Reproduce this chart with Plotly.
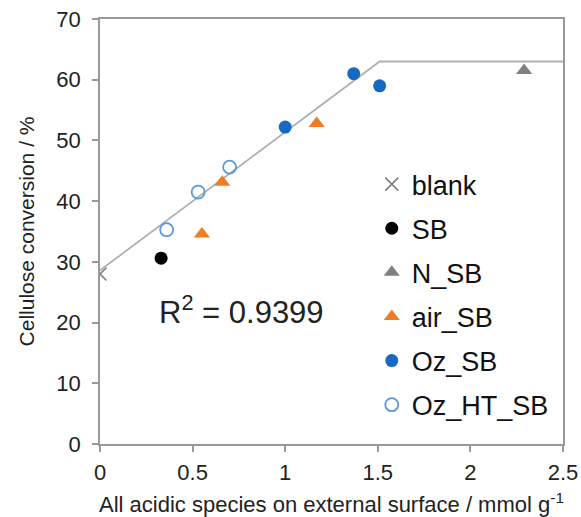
import plotly.graph_objects as go

# Data
blank_x = [0.0]
blank_y = [28.0]
sb_x = [0.33]
sb_y = [30.6]
nsb_x = [2.29]
nsb_y = [61.5]
air_x = [0.55, 0.66, 1.17]
air_y = [34.6, 43.1, 52.8]
oz_x = [1.0, 1.37, 1.51]
oz_y = [52.2, 61.0, 59.0]
ozht_x = [0.36, 0.53, 0.70]
ozht_y = [35.3, 41.5, 45.6]
fit_x = [0.0, 1.51, 2.5]
fit_y = [28.6, 63.0, 63.0]
r2_text = "R<sup>2</sup> = 0.9399"

FONT = "Liberation Sans, Arial"
fig = go.Figure()
fig.add_trace(go.Scatter(x=fit_x, y=fit_y, mode="lines",
                         line=dict(color="#b0b0b0", width=1.8),
                         showlegend=False, hoverinfo="skip"))
fig.add_trace(go.Scatter(x=blank_x, y=blank_y, mode="markers", name="blank",
                         legendgroup="a",
                         marker=dict(symbol="x-thin", size=13, color="#808080",
                                     line=dict(color="#808080", width=1.6))))
fig.add_trace(go.Scatter(x=sb_x, y=sb_y, mode="markers", name="SB",
                         legendgroup="b",
                         marker=dict(symbol="circle", size=13, color="#000000")))
fig.add_trace(go.Scatter(x=nsb_x, y=nsb_y, mode="markers", name="N_SB",
                         legendgroup="c",
                         marker=dict(symbol="triangle-up", size=14, color="#808080")))
fig.add_trace(go.Scatter(x=air_x, y=air_y, mode="markers", name="air_SB",
                         legendgroup="d",
                         marker=dict(symbol="triangle-up", size=14, color="#F07B22")))
fig.add_trace(go.Scatter(x=oz_x, y=oz_y, mode="markers", name="Oz_SB",
                         legendgroup="e",
                         marker=dict(symbol="circle", size=13, color="#1769C2")))
fig.add_trace(go.Scatter(x=ozht_x, y=ozht_y, mode="markers", name="Oz_HT_SB",
                         legendgroup="f",
                         marker=dict(symbol="circle-open", size=13, color="#5B9BD5",
                                     line=dict(width=1.8, color="#5B9BD5"))))

fig.add_annotation(x=0.31, y=22.0, xref="x", yref="y", text=r2_text,
                   showarrow=False, xanchor="left", yanchor="middle",
                   font=dict(size=31, color="#222222", family=FONT))

axis_common = dict(showline=True, linecolor="#999999", linewidth=1.5, mirror=True,
                   ticks="outside", tickcolor="#999999", ticklen=6, tickwidth=1.5,
                   showgrid=False, zeroline=False, automargin=False,
                   ticklabeloverflow="allow",
                   tickfont=dict(size=22, color="#222222", family=FONT))

fig.update_xaxes(range=[0, 2.5], tickvals=[0, 0.5, 1, 1.5, 2, 2.5],
                 ticktext=["0", "0.5", "1", "1.5", "2", "2.5"],
                 ticklabelstandoff=2,
                 title=dict(text="All acidic species on external surface / mmol g<sup>-1</sup>",
                            font=dict(size=22, color="#222222", family=FONT),
                            standoff=21),
                 **axis_common)
fig.update_yaxes(range=[0, 70], tickvals=[0, 10, 20, 30, 40, 50, 60, 70],
                 ticklabelstandoff=7,
                 title=dict(text="Cellulose conversion / %",
                            font=dict(size=21, color="#222222", family=FONT),
                            standoff=16),
                 **axis_common)

fig.update_layout(
    width=581, height=517,
    margin=dict(l=100, r=18, t=19, b=73),
    plot_bgcolor="white", paper_bgcolor="white",
    legend=dict(x=0.587, y=0.668, xanchor="left", yanchor="top",
                font=dict(size=27, color="#111111", family=FONT),
                tracegroupgap=6, itemwidth=30, bgcolor="rgba(0,0,0,0)"),
    showlegend=True,
)

fig.write_html("out.html", config={"displayModeBar": False},
               post_script="document.body.style.margin='0px';document.body.style.overflow='hidden';")
